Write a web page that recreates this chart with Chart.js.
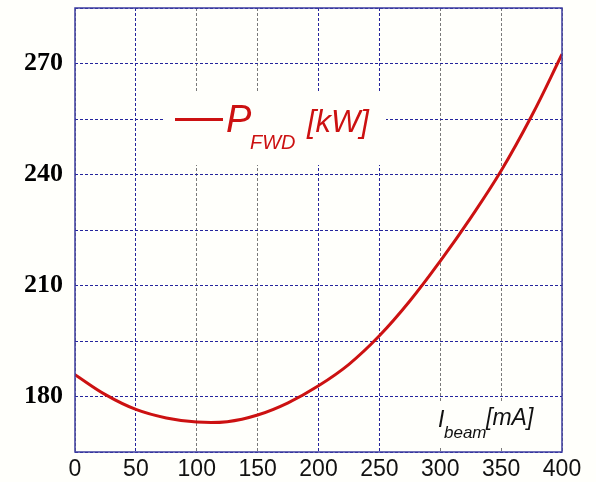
<!DOCTYPE html>
<html>
<head>
<meta charset="utf-8">
<script src="https://cdn.jsdelivr.net/npm/chart.js@4/dist/chart.umd.min.js"></script>
<style>
  html, body { margin: 0; padding: 0; background: #fffffb; }
  #wrap { width: 596px; height: 482px; }
</style>
</head>
<body>
<div id="wrap"><canvas id="pfwdChart" width="596" height="482"></canvas></div>
<script>
// beam current (mA) and forward power (kW)
const currentMA = [0, 25, 50, 75, 100, 125, 150, 175, 200, 225, 250, 275, 300, 325, 350, 375, 400];
const powerKW = [185.9, 180.5, 176.5, 174.2, 173.1, 173.2, 175.0, 178.3, 182.9, 188.7, 196.4, 205.8, 216.6, 228.3, 241.0, 255.8, 272.5];
const yTickLabels = [180, 210, 240, 270];
const blueXLines = [50, 200, 250];

const BG = "#fffffb";
const RED = "#cc1111";
const NAVY = "#24249c";

const points = currentMA.map((x, i) => ({ x: x, y: powerKW[i] }));

const decorPlugin = {
  id: "decor",
  beforeDraw(chart) {
    const c = chart.ctx;
    c.save();
    c.fillStyle = BG;
    c.fillRect(0, 0, chart.width, chart.height);
    c.restore();
  },
  beforeDatasetsDraw(chart) {
    const c = chart.ctx;
    c.save();
    c.fillStyle = BG;
    c.fillRect(164, 92, 222, 73);   // legend box
    c.fillRect(432, 403, 108, 43);  // x title box
    c.restore();
  },
  afterDatasetsDraw(chart) {
    const a = chart.chartArea;
    const c = chart.ctx;
    c.save();
    c.strokeStyle = "#3c3ca0";
    c.lineWidth = 1.5;
    c.strokeRect(a.left, a.top, a.right - a.left, a.bottom - a.top);
    c.restore();
  },
  afterDraw(chart) {
    const c = chart.ctx;
    c.save();
    // legend
    c.strokeStyle = RED;
    c.lineWidth = 3;
    c.beginPath();
    c.moveTo(175, 119.5);
    c.lineTo(223, 119.5);
    c.stroke();
    c.fillStyle = RED;
    c.textBaseline = "alphabetic";
    c.font = "italic 38px 'Liberation Sans', Arial, sans-serif";
    c.fillText("P", 226, 132);
    c.font = "italic 20px 'Liberation Sans', Arial, sans-serif";
    c.fillText("FWD", 250, 149);
    c.font = "italic 31px 'Liberation Sans', Arial, sans-serif";
    c.fillText("[kW]", 307, 132);
    // x title
    c.fillStyle = "#111";
    c.font = "italic 23px 'Liberation Sans', Arial, sans-serif";
    c.fillText("I", 438, 427);
    c.font = "italic 17px 'Liberation Sans', Arial, sans-serif";
    c.fillText("beam", 444, 438);
    c.font = "italic 23px 'Liberation Sans', Arial, sans-serif";
    c.fillText("[mA]", 486, 425);
    c.restore();
  }
};

new Chart(document.getElementById("pfwdChart"), {
  type: "line",
  data: {
    datasets: [{
      label: "P_FWD [kW]",
      data: points,
      borderColor: RED,
      borderWidth: 3,
      pointRadius: 0,
      tension: 0.4,
      fill: false
    }]
  },
  options: {
    responsive: false,
    animation: false,
    layout: { padding: { left: 0, top: 8, right: 34, bottom: 0 } },
    scales: {
      x: {
        type: "linear",
        min: 0,
        max: 400,
        ticks: {
          stepSize: 50,
          padding: 4,
          color: "#111",
          font: { family: "'Liberation Sans', Arial, sans-serif", size: 23 },
          maxRotation: 0
        },
        grid: {
          drawTicks: false,
          lineWidth: 1,
          color: (ctx) => blueXLines.includes(ctx.tick && ctx.tick.value) ? NAVY : "#7a7a7a"
        },
        border: { display: false, dash: [3, 2] },
        afterFit: (scale) => { scale.height = 30; scale.paddingLeft = 0; scale.paddingRight = 0; }
      },
      y: {
        min: 165,
        max: 285,
        ticks: {
          stepSize: 15,
          padding: 12,
          color: "#000",
          font: { family: "'Liberation Serif', 'Times New Roman', serif", size: 26, weight: "bold" },
          callback: (value) => yTickLabels.includes(value) ? String(value) : ""
        },
        grid: { drawTicks: false, lineWidth: 1, color: NAVY },
        border: { display: false, dash: [3, 2] },
        afterFit: (scale) => { scale.width = 75; scale.paddingTop = 0; scale.paddingBottom = 0; }
      }
    },
    plugins: {
      legend: { display: false },
      tooltip: { enabled: false }
    }
  },
  plugins: [decorPlugin]
});
</script>
</body>
</html>
